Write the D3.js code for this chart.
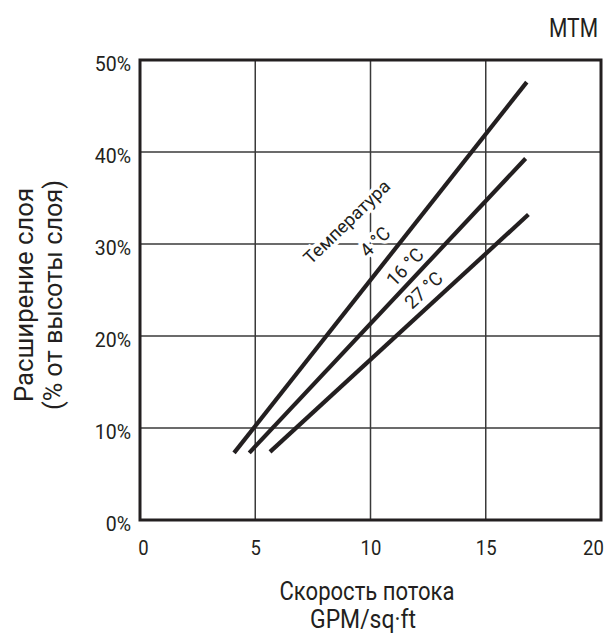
<!DOCTYPE html>
<html><head><meta charset="utf-8">
<script src="https://cdn.jsdelivr.net/npm/d3@7"></script>
<style>
html,body{margin:0;padding:0;background:#fff;}
text{font-family:"Roboto","Liberation Sans",sans-serif;fill:#231f20;}
</style></head>
<body><svg id="c" width="606" height="634"></svg>
<script>
// Data
const xTicks = [0, 5, 10, 15, 20];
const yTicks = [0, 10, 20, 30, 40, 50];
const seriesNames = ["4 °C", "16 °C", "27 °C"];
const flowStart = [4.08, 4.74, 5.64];
const flowEnd = [16.78, 16.73, 16.85];
const expStart = [7.3, 7.3, 7.4];
const expEnd = [47.6, 39.3, 33.2];
const labelX = [10.2, 11.5, 12.3];
const labelY = [30.25, 27.5, 25.0];
const labelAngle = [-45, -46, -43];
const groupLabel = "Температура";

const svg = d3.select("#c");
const L = 140, R = 601, T = 60, B = 520;
const x = d3.scaleLinear().domain([0, 20]).range([L, R]);
const y = d3.scaleLinear().domain([0, 50]).range([B, T]);

function condense(sel, f) {
  sel.each(function () {
    const n = this.getComputedTextLength();
    d3.select(this).attr("textLength", n * f).attr("lengthAdjust", "spacingAndGlyphs");
  });
}

// grid
svg.append("g").selectAll("line").data(xTicks.slice(1, -1)).join("line")
  .attr("x1", d => x(d)).attr("x2", d => x(d)).attr("y1", T).attr("y2", B)
  .attr("stroke", "#3a3a3a").attr("stroke-width", 1.5);
svg.append("g").selectAll("line").data(yTicks.slice(1, -1)).join("line")
  .attr("y1", d => y(d)).attr("y2", d => y(d)).attr("x1", L).attr("x2", R)
  .attr("stroke", "#3a3a3a").attr("stroke-width", 1.5);

// axes tick labels
const xAxis = d3.axisBottom(x).tickValues(xTicks).tickSize(0).tickPadding(20).tickFormat(d3.format("d"));
const gx = svg.append("g").attr("transform", `translate(0,${B})`).call(xAxis);
gx.select(".domain").remove();
gx.selectAll("text").attr("font-size", 21).attr("font-family", null);
condense(gx.selectAll("text"), 0.88);
gx.selectAll(".tick").filter(d => d === 0).select("text").attr("dx", 3);
gx.selectAll(".tick").filter(d => d === 20).select("text").attr("dx", -8);

const yAxis = d3.axisLeft(y).tickValues(yTicks).tickSize(0).tickPadding(9).tickFormat(d => d + "%");
const gy = svg.append("g").attr("transform", `translate(${L},0)`).call(yAxis);
gy.select(".domain").remove();
gy.selectAll("text").attr("font-size", 21).attr("font-family", null).attr("dy", "0.52em");
condense(gy.selectAll("text"), 0.93);

// data lines
const lines = seriesNames.map((n, i) => ({name: n, pts: [[flowStart[i], expStart[i]], [flowEnd[i], expEnd[i]]]}));
svg.append("g").selectAll("path").data(lines).join("path")
  .attr("d", d => d3.line().x(p => x(p[0])).y(p => y(p[1]))(d.pts))
  .attr("fill", "none").attr("stroke", "#231f20").attr("stroke-width", 4.2);

// labels
const lab = svg.append("g");
const gl = lab.append("text").attr("transform", `translate(${x(8.97)},${y(32.4)}) rotate(-44)`)
  .attr("text-anchor", "middle").attr("dy", "0.35em").attr("font-size", 18)
  .attr("stroke", "#fff").attr("stroke-width", 7).attr("paint-order", "stroke")
  .text(groupLabel);
gl.attr("textLength", 112).attr("lengthAdjust", "spacingAndGlyphs");
const sl = lab.selectAll("text.s").data(seriesNames).join("text").attr("class", "s")
  .attr("transform", (d, i) => `translate(${x(labelX[i])},${y(labelY[i])}) rotate(${labelAngle[i]})`)
  .attr("text-anchor", "middle").attr("dy", "0.35em").attr("font-size", 19)
  .attr("stroke", "#fff").attr("stroke-width", 7).attr("paint-order", "stroke")
  .text(d => d);
condense(sl, 0.97);

// frame
svg.append("rect").attr("x", L).attr("y", T).attr("width", R - L).attr("height", B - T)
  .attr("fill", "none").attr("stroke", "#231f20").attr("stroke-width", 3);

// titles
const mt = svg.append("text").attr("x", 598).attr("y", 37).attr("text-anchor", "end").attr("font-size", 25).text("MTM");
mt.attr("textLength", 49).attr("lengthAdjust", "spacingAndGlyphs");
const yt1 = svg.append("text").attr("transform", "translate(33,295) rotate(-90)").attr("text-anchor", "middle").attr("font-size", 26).text("Расширение слоя");
const yt2 = svg.append("text").attr("transform", "translate(62,295) rotate(-90)").attr("text-anchor", "middle").attr("font-size", 26).text("(% от высоты слоя)");
yt1.attr("textLength", 214).attr("lengthAdjust", "spacingAndGlyphs");
yt2.attr("textLength", 230).attr("lengthAdjust", "spacingAndGlyphs");
const xt1 = svg.append("text").attr("x", 367).attr("y", 600).attr("text-anchor", "middle").attr("font-size", 26).text("Скорость потока");
const xt2 = svg.append("text").attr("x", 363).attr("y", 628).attr("text-anchor", "middle").attr("font-size", 26).text("GPM/sq·ft");
xt1.attr("textLength", 175).attr("lengthAdjust", "spacingAndGlyphs");
xt2.attr("textLength", 106).attr("lengthAdjust", "spacingAndGlyphs");
</script></body></html>
